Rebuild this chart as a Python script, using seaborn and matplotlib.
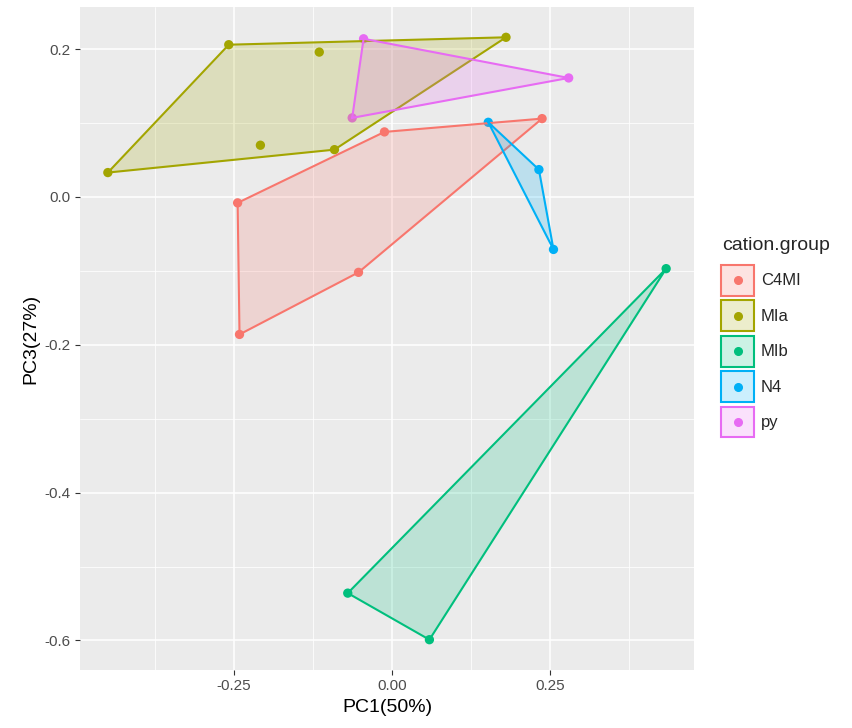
import numpy as np
import pandas as pd
import seaborn as sns
import matplotlib.pyplot as plt
from matplotlib.patches import Patch, Rectangle
from matplotlib.lines import Line2D
from matplotlib.legend_handler import HandlerBase
from matplotlib.colors import to_rgba

# -----------------------------------
# Data
# -----------------------------------
groups = ["C4MI", "MIa", "MIb", "N4", "py"]
colors = ["#F8766D", "#A3A500", "#00BF7D", "#00B0F6", "#E76BF3"]

pc1_c4mi = [-0.244, -0.241, -0.053, -0.012, 0.237]
pc3_c4mi = [-0.008, -0.186, -0.102, 0.088, 0.106]

pc1_mia = [-0.449, -0.258, -0.115, 0.180, -0.091, -0.208]
pc3_mia = [0.033, 0.206, 0.196, 0.216, 0.064, 0.070]

pc1_mib = [0.433, -0.070, 0.059]
pc3_mib = [-0.097, -0.536, -0.599]

pc1_n4 = [0.152, 0.232, 0.255]
pc3_n4 = [0.101, 0.037, -0.071]

pc1_py = [-0.045, 0.279, -0.063]
pc3_py = [0.214, 0.161, 0.107]

x_ticks = [-0.25, 0.00, 0.25]
y_ticks = [-0.6, -0.4, -0.2, 0.0, 0.2]

df = pd.concat([
    pd.DataFrame({"PC1": pc1_c4mi, "PC3": pc3_c4mi, "cation.group": "C4MI"}),
    pd.DataFrame({"PC1": pc1_mia, "PC3": pc3_mia, "cation.group": "MIa"}),
    pd.DataFrame({"PC1": pc1_mib, "PC3": pc3_mib, "cation.group": "MIb"}),
    pd.DataFrame({"PC1": pc1_n4, "PC3": pc3_n4, "cation.group": "N4"}),
    pd.DataFrame({"PC1": pc1_py, "PC3": pc3_py, "cation.group": "py"}),
], ignore_index=True)

palette = dict(zip(groups, colors))


def convex_hull(pts):
    # monotone chain
    pts = sorted(set(map(tuple, pts)))
    if len(pts) < 3:
        return pts

    def cross(o, a, b):
        return (a[0] - o[0]) * (b[1] - o[1]) - (a[1] - o[1]) * (b[0] - o[0])

    lower, upper = [], []
    for p in pts:
        while len(lower) >= 2 and cross(lower[-2], lower[-1], p) <= 0:
            lower.pop()
        lower.append(p)
    for p in reversed(pts):
        while len(upper) >= 2 and cross(upper[-2], upper[-1], p) <= 0:
            upper.pop()
        upper.append(p)
    return lower[:-1] + upper[:-1]


class KeyHandler(HandlerBase):
    # ggplot-like key: filled box with outline and a point in the middle
    def create_artists(self, legend, orig_handle, xdescent, ydescent,
                       width, height, fontsize, trans):
        c = orig_handle.get_edgecolor()
        box = Rectangle((-xdescent, -ydescent), width, height,
                        facecolor=to_rgba(c, 0.2), edgecolor=c, lw=1.5,
                        transform=trans)
        dot = Line2D([-xdescent + width / 2], [-ydescent + height / 2],
                     marker="o", color=c, lw=0, markersize=5.5, transform=trans)
        return [box, dot]


# -----------------------------------
# Style (ggplot grey look)
# -----------------------------------
sns.set_theme(style="darkgrid", rc={
    "axes.facecolor": "#EBEBEB",
    "grid.color": "white",
    "axes.edgecolor": "none",
})
plt.rcParams["font.family"] = ["Liberation Sans", "DejaVu Sans"]

fig = plt.figure(figsize=(8.52, 7.28), dpi=100)
ax = fig.add_axes([80 / 852, 58 / 728, 614 / 852, 663 / 728])

sns.scatterplot(data=df, x="PC1", y="PC3", hue="cation.group", palette=palette,
                s=45, edgecolor="none", legend=False, ax=ax, zorder=3)

for g, c in zip(groups, colors):
    sub = df[df["cation.group"] == g]
    hull = np.array(convex_hull(sub[["PC1", "PC3"]].values))
    ax.fill(hull[:, 0], hull[:, 1], facecolor=c, alpha=0.2, edgecolor="none", zorder=4)
    closed = np.vstack([hull, hull[:1]])
    ax.plot(closed[:, 0], closed[:, 1], color=c, lw=1.5, zorder=4,
            solid_joinstyle="round")

ax.set_xlim(-0.493, 0.477)
ax.set_ylim(-0.640, 0.257)
ax.set_xticks(x_ticks)
ax.set_xticklabels([f"{v:.2f}" for v in x_ticks])
ax.set_yticks(y_ticks)
ax.set_yticklabels([f"{v:.1f}" for v in y_ticks])
ax.set_xticks([-0.375, -0.125, 0.125, 0.375], minor=True)
ax.set_yticks([-0.5, -0.3, -0.1, 0.1], minor=True)
ax.grid(which="major", color="white", lw=1.1)
ax.grid(which="minor", color="white", lw=0.55)
ax.tick_params(which="major", length=3.5, width=0.8, color="#333333",
               labelsize=11, labelcolor="#4D4D4D", bottom=True, left=True, pad=3)
ax.tick_params(which="minor", length=0, bottom=False, left=False)
for s in ax.spines.values():
    s.set_visible(False)

ax.set_xlabel("PC1(50%)", fontsize=14, color="black", labelpad=4)
ax.set_ylabel("PC3(27%)", fontsize=14, color="black", labelpad=4)

# legend: title as its own text so the gap to the keys matches ggplot
fig.text(722 / 852, 1 - 246 / 728, "cation.group", fontsize=14,
         ha="left", va="center")
handles = [Patch(edgecolor=c) for c in colors]
leg = fig.legend(handles, groups, loc="upper left",
                 bbox_to_anchor=(721 / 852, 1 - 265 / 728), frameon=False,
                 fontsize=12, handler_map={Patch: KeyHandler()},
                 handlelength=2.0, handleheight=2.45, labelspacing=0.29,
                 handletextpad=0.4, borderpad=0, borderaxespad=0)

fig.savefig("out.png", dpi=100)
